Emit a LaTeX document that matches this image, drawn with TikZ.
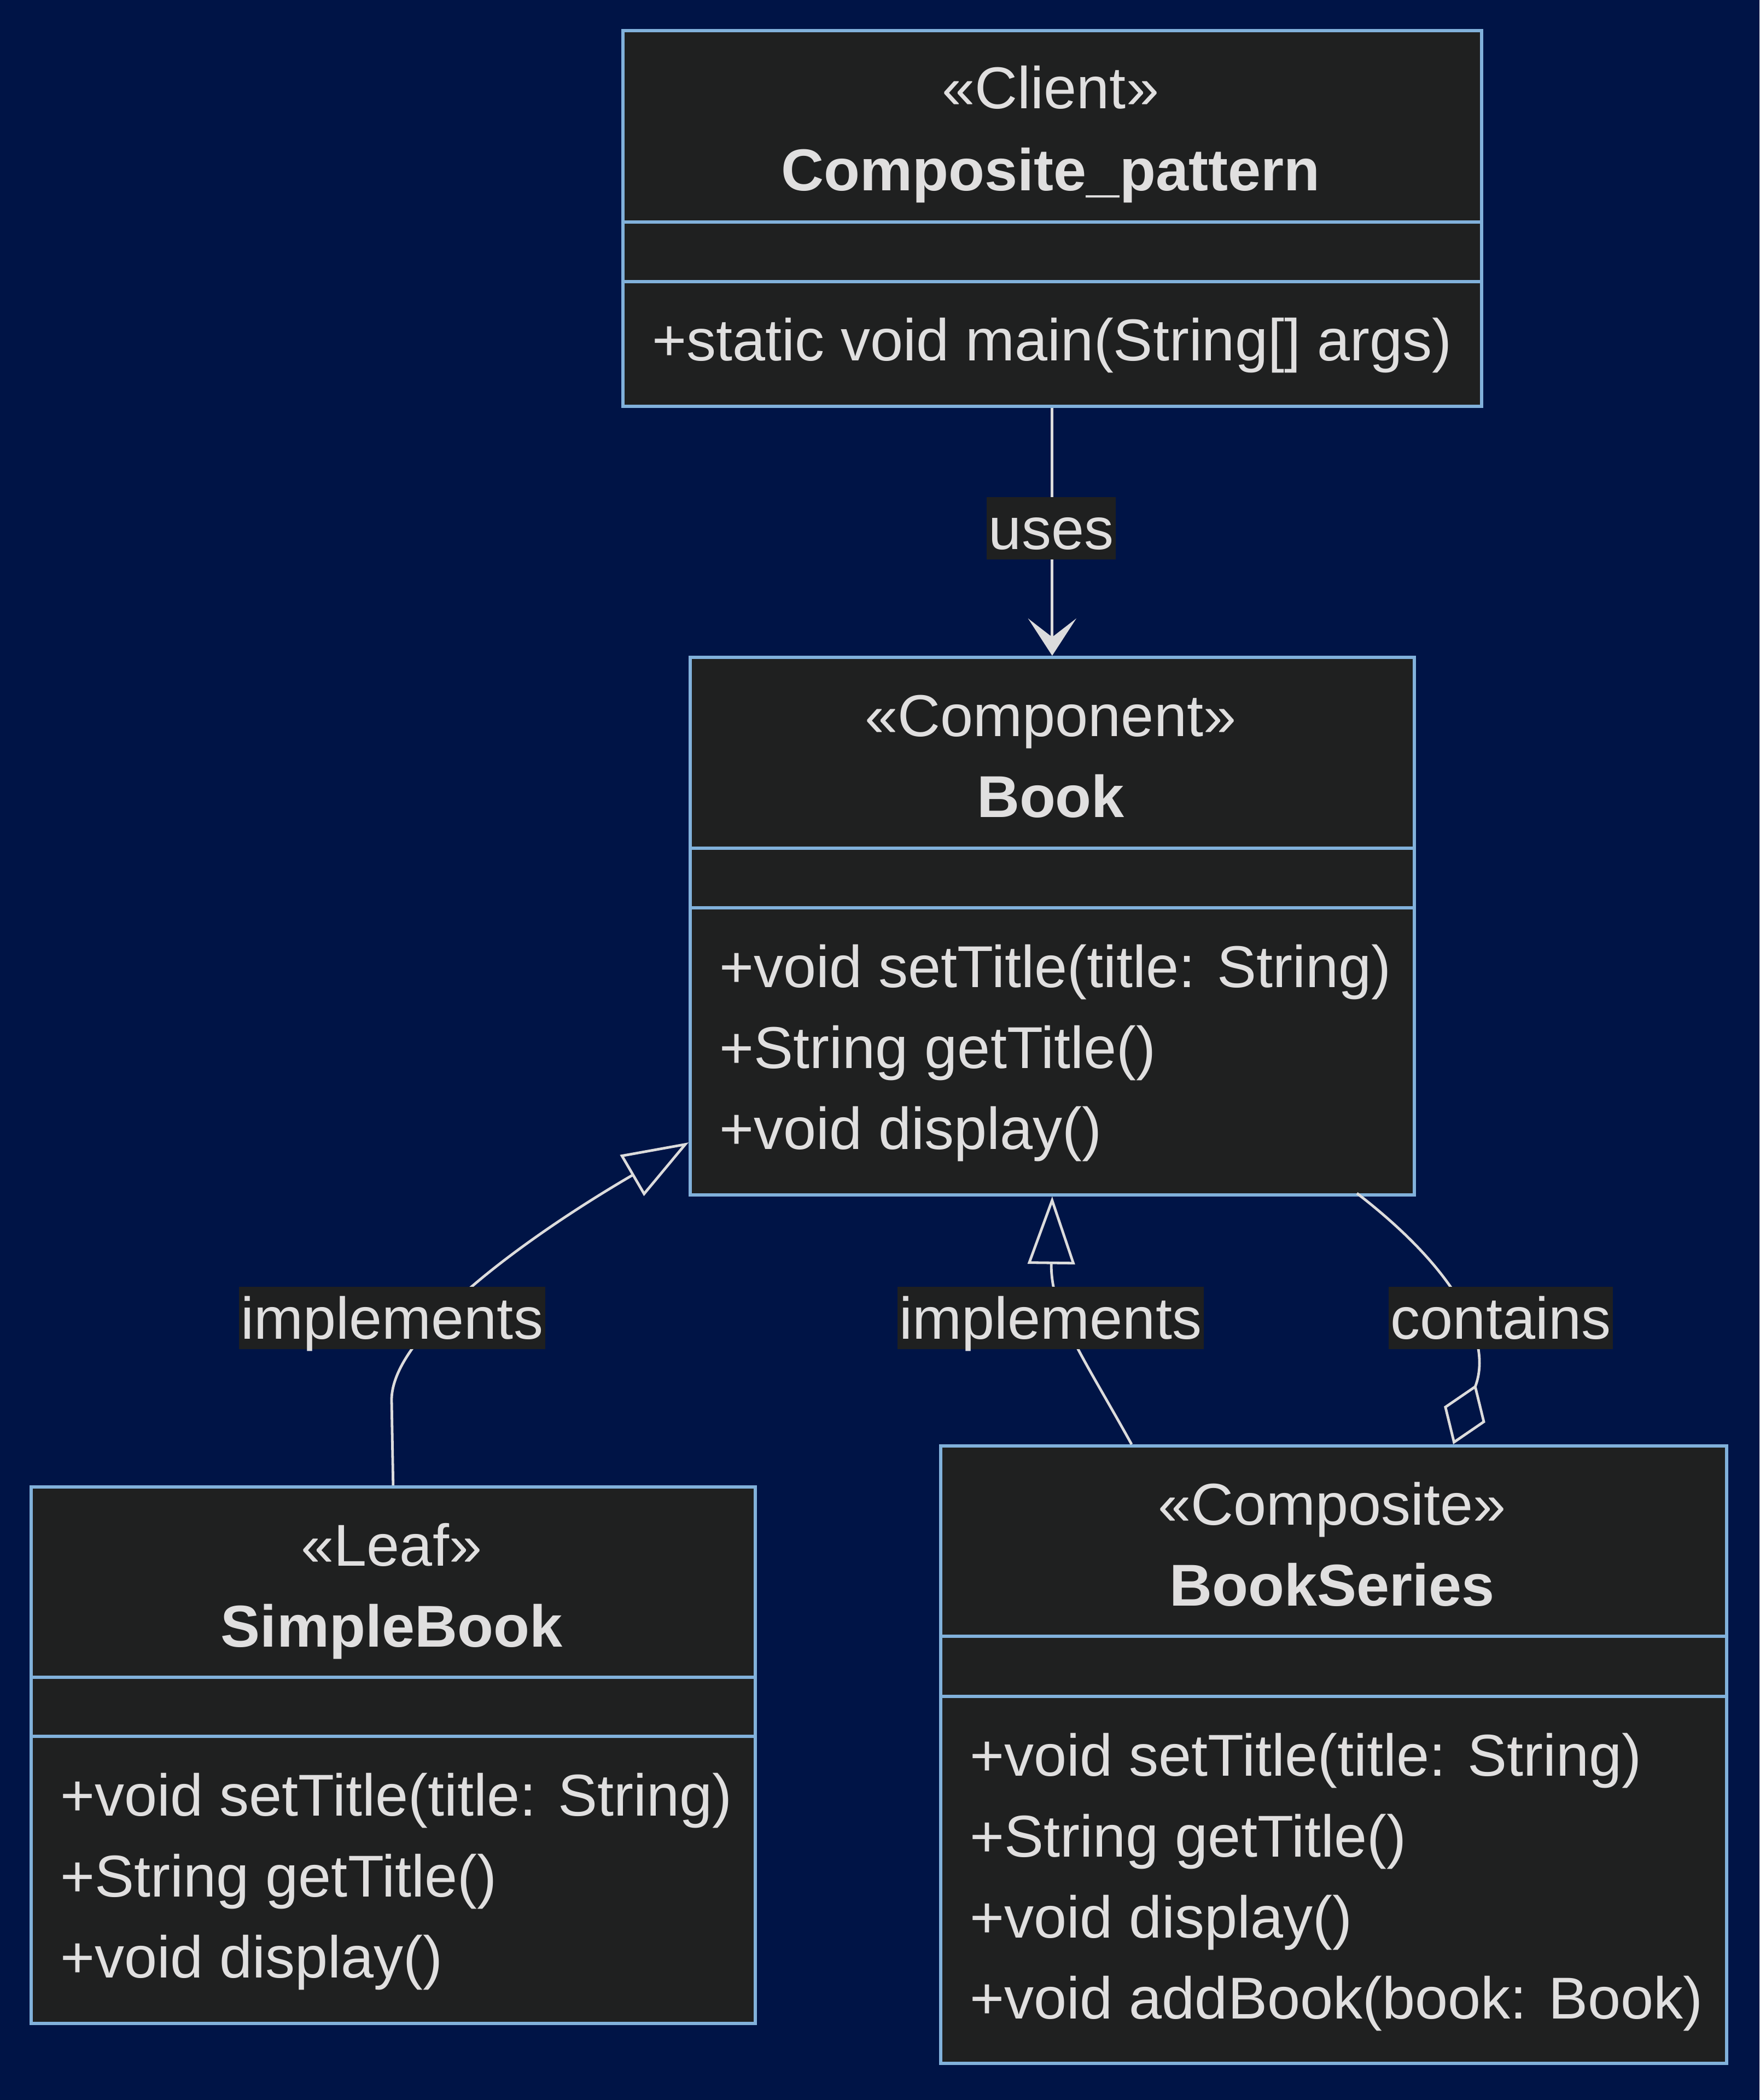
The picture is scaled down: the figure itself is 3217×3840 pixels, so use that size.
\documentclass[tikz,border=0pt]{standalone}
\usepackage{fontspec}
\setmainfont{Liberation Sans}
\usetikzlibrary{arrows.meta}
\definecolor{bgc}{RGB}{0,20,70}
\definecolor{boxc}{RGB}{31,32,32}
\definecolor{bordc}{RGB}{129,177,219}
\definecolor{txtc}{RGB}{224,223,223}
\definecolor{linec}{RGB}{220,220,220}
\begin{document}
\begin{tikzpicture}[x=0.25pt,y=-0.25pt,
 umlbox/.style={draw=bordc, fill=boxc, line width=1.4pt, rectangle, inner sep=0pt, anchor=north west},
 sepline/.style={draw=bordc, line width=1.4pt},
 txt/.style={text=txtc, font=\fontsize{27pt}{32pt}\selectfont, inner sep=0pt},
 ttl/.style={txt, font=\fontsize{27pt}{32pt}\selectfont\bfseries, anchor=base},
 ster/.style={txt, anchor=base},
 meth/.style={txt, anchor=base west},
 conn/.style={draw=linec, line width=1.2pt},
 lbl/.style={txt, fill=boxc, inner xsep=1pt, inner ysep=0pt, text height=23.75pt, text depth=4.75pt}]
\fill[bgc] (0,0) rectangle (3217,3840);
\useasboundingbox (0,0) rectangle (3217,3840);

% boxes
\node[umlbox, minimum width=392.5pt, minimum height=171.75pt] (client) at (1136,53) {};
\node[umlbox, minimum width=331pt, minimum height=245.75pt] (book) at (1259,1199) {};
\node[umlbox, minimum width=331pt, minimum height=245.25pt] (simple) at (54,2716) {};
\node[umlbox, minimum width=359.25pt, minimum height=282.25pt] (series) at (1717,2641) {};

% separators
\draw[sepline] (1136,406) -- (2706,406);
\draw[sepline] (1136,515) -- (2706,515);
\draw[sepline] (1259,1551) -- (2583,1551);
\draw[sepline] (1259,1660) -- (2583,1660);
\draw[sepline] (54,3067) -- (1378,3067);
\draw[sepline] (54,3175) -- (1378,3175);
\draw[sepline] (1717,2992) -- (3154,2992);
\draw[sepline] (1717,3102) -- (3154,3102);

% client text
\node[ster] (clientS) at (1921,199) {«Client»};
\node[ttl] (clientT) at (1921,349) {Composite\_pattern};
\node[meth] (clientM1) at (1192,659) {+static void main(String[] args)};

% book text
\node[ster] (bookS) at (1921,1346) {«Component»};
\node[ttl] (bookT) at (1921,1494) {Book};
\node[meth] (bookM1) at (1315,1805) {+void setTitle(title: String)};
\node[meth] (bookM2) at (1315,1953) {+String getTitle()};
\node[meth] (bookM3) at (1315,2101) {+void display()};

% simple text
\node[ster] (simpleS) at (716,2863) {«Leaf»};
\node[ttl] (simpleT) at (716,3011) {SimpleBook};
\node[meth] (simpleM1) at (110,3320) {+void setTitle(title: String)};
\node[meth] (simpleM2) at (110,3468) {+String getTitle()};
\node[meth] (simpleM3) at (110,3616) {+void display()};

% series text
\node[ster] (seriesS) at (2435.5,2788) {«Composite»};
\node[ttl] (seriesT) at (2435.5,2936) {BookSeries};
\node[meth] (seriesM1) at (1773,3247) {+void setTitle(title: String)};
\node[meth] (seriesM2) at (1773,3395) {+String getTitle()};
\node[meth] (seriesM3) at (1773,3543) {+void display()};
\node[meth] (seriesM4) at (1773,3691) {+void addBook(book: Book)};

% connector end points
\coordinate (bookL) at (1259,2089);
\coordinate (seriesI) at (2069,2641);
\coordinate (bookC) at (2481,2182);
\coordinate (seriesC) at (2657,2641);

% connectors
\draw[conn, -{Stealth[length=17pt, width=22pt, inset=8.5pt, line width=1.6pt]}] (client.south) -- (book.north);
\draw[conn, -{Triangle[open, length=30pt, width=21.5pt]}] (simple.north) -- (716,2560) .. controls (716,2430) and (1000,2240) .. (bookL);
\draw[conn, -{Triangle[open, length=31pt, width=21.5pt]}] (seriesI) .. controls (1980,2480) and (1921,2400) .. (book.south);
\draw[conn, {Diamond[open, length=29.25pt, width=20.25pt]}-] (seriesC) .. controls (2730,2450) and (2660,2320) .. (bookC);

% labels
\node[lbl] (lUses) at (1922,966) {uses};
\node[lbl] (lImpl1) at (717,2410) {implements};
\node[lbl] (lImpl2) at (1921,2410) {implements};
\node[lbl] (lCont) at (2744,2410) {contains};
\end{tikzpicture}
\end{document}
